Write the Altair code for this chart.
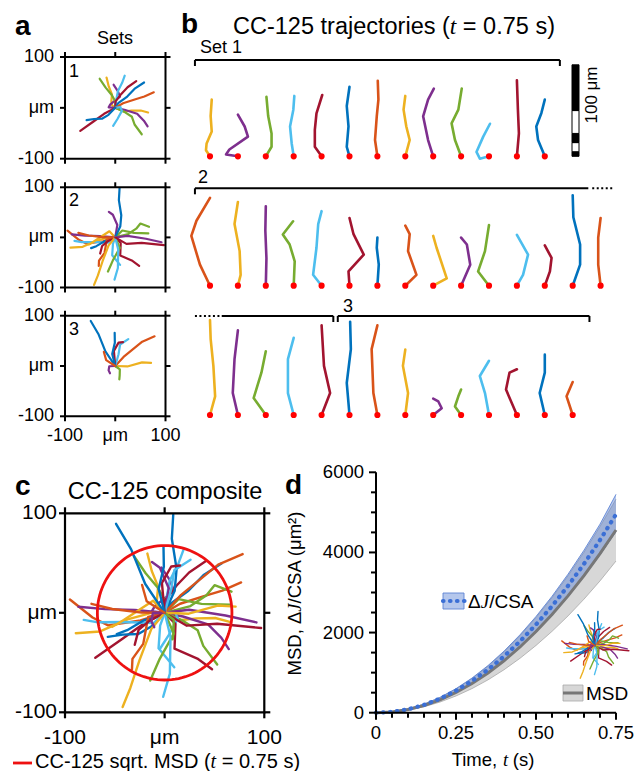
import math
import pandas as pd
import altair as alt

# ---------------- colours (MATLAB default order) ----------------
COLORS = ["#0072BD", "#D95319", "#EDB120", "#7E2F8E", "#77AC30", "#4DBEEE", "#A2142F"]
SET_FIRST_COLOR = [2, 1, 0]

# ---------------- trajectories, aligned so the end point is straight up (lateral, along) in um ----------------
SET1_SHAPES = [
    [(0, 0), (-4.4, 6.7), (-3.7, 14), (1.9, 27), (0.7, 44), (1.9, 62)],
    [(0, 0), (-13, 2), (-9.3, 7.4), (11, 21.5), (7.4, 32.6), (0, 45.5)],
    [(0, 0), (6.3, 10.4), (6.3, 25), (2.6, 44), (0.7, 65)],
    [(0, 0), (-2.2, 14), (-4, 32.6), (-0.4, 51), (0.7, 66)],
    [(0, 0), (-7.4, 10.4), (-7.4, 29), (-5.6, 47), (0.7, 67)],
    [(0, 0), (-3, 10.4), (-1.1, 32.6), (-3, 55), (0, 76)],
    [(0, 0), (-2.6, 17.8), (-0.7, 43.7), (1.1, 62), (0.4, 82.6)],
    [(0, 0), (4.8, 17.8), (1.1, 32.6), (-1.9, 51), (0, 66)],
    [(0, 0), (-5.6, 17.8), (-11, 43.7), (-5.6, 62), (0.7, 74)],
    [(0, 0), (-6.7, 17.8), (-10.4, 36), (-3, 51), (0.7, 74)],
    [(0, 0), (-10, -2.6), (-13.7, 4.8), (-6.3, 21.5), (1.1, 35.6)],
    [(0, 0), (2.2, 25), (1.1, 51), (0, 83)],
    [(0, 0), (-7.4, 17.8), (-9.3, 32.6), (-3.7, 47.4), (0, 62)],
]
SET2_SHAPES = [
    [(0, 0), (-11, 23), (-20.4, 54.4), (-14.8, 71), (0, 96)],
    [(0, 0), (3, 11.9), (1.9, 37.8), (-3.7, 67.4), (0, 91.5)],
    [(0, 0), (0.7, 30), (-0.5, 60), (0, 86.7)],
    [(0, 0), (1.1, 26.7), (-4.4, 45), (-11.9, 56), (-0.7, 70.4)],
    [(0, 0), (-9.3, 11.9), (-5.6, 41.5), (-3.7, 67.4), (0, 81.5)],
    [(0, 0), (-1.1, 15.6), (15.6, 34), (4.4, 56.3), (0, 74)],
    [(0, 0), (1.5, 23), (-0.7, 41.5), (0, 52.6)],
    [(0, 0), (12.2, 11.9), (3, 37.8), (4.8, 56.3), (0, 65.6)],
    [(0, 0), (14.8, 8.1), (3.7, 41.5), (0, 54.4)],
    [(0, 0), (10, 23), (6.3, 45), (0, 52.6)],
    [(0, 0), (-11.9, 15.6), (-4.4, 37.8), (0, 66.3)],
    [(0, 0), (6.7, 11.9), (12.2, 34), (0, 55.6)],
    [(0, 0), (5.6, 15.6), (7.4, 30.4), (0, 44)],
    [(0, 0), (8.1, 23), (8.1, 45), (0.7, 74.8), (0, 98.9)],
    [(0, 0), (-2.6, 23), (-2.6, 52.6), (0, 74)],
    [(0, 0), (5.6, 20.4), (3.7, 53.7), (0.7, 83.3), (0, 103.7)],
    [(0, 0), (-5.6, 24), (-3.7, 61), (0, 92.6)],
    [(0, 0), (-13.3, 18.5), (-4.8, 46.3), (0, 69.6)],
    [(0, 0), (-6.3, 24), (-6.3, 61), (0, 84.4)],
    [(0, 0), (9.3, 24), (2.6, 53.7), (0, 98)],
]
SET3_SHAPES = [
    [(0, 0), (-3, 35), (1.5, 72), (0.7, 101.9)],
    [(0, 0), (-4.4, 24), (-6.3, 72), (0, 98)],
    [(0, 0), (3, 24), (-2.6, 53.7), (0, 71.5)],
    [(0, 0), (9.3, 7.4), (5.6, 14.8), (0, 17.8)],
    [(0, 0), (-6.7, 9.3), (-3, 20.4), (0, 27.8)],
    [(0, 0), (-4.4, 24), (-10, 42.6), (0, 59.3)],
    [(0, 0), (-11.9, 27.8), (-8.1, 46.3), (0, 50)],
    [(0, 0), (-5.6, 24), (0, 46.3), (0, 66)],
    [(0, 0), (-6.7, 20.4), (0, 36)],
]
# direction (degrees) of each trajectory's end point in panels a / c
SET1_ANGLES = [108, 94, 119, 74, 52, 41, 22, -8, -29, -44, -95, -147, -157]
SET2_ANGLES = [172, -167, 176, 17, -175, -50, -156, -120, -165, 104, 7, -80, -133, 85, 173, -114, -6, -102, -91, -9]
SET3_ANGLES = [119, 37, 5, -126, -73, 64, 72, 91, 129]

# which (set, trajectory) is shown in each slot of the three rows of panel b
ROW1 = [(0, j) for j in range(13)]
ROW2 = [(1, j) for j in range(15)]
ROW3 = [(1, j) for j in range(15, 20)] + [(2, j) for j in range(9)]

# ---------------- panel d curves ----------------
TIME = [0, 0.05, 0.10, 0.15, 0.20, 0.25, 0.30, 0.35, 0.40, 0.45, 0.50, 0.55, 0.60, 0.65, 0.70, 0.75]
MSD = [0, 18, 78, 180, 322, 505, 728, 990, 1295, 1640, 2025, 2450, 2915, 3420, 3970, 4560]
MSD_LO = [0, 14, 64, 148, 266, 418, 602, 820, 1072, 1358, 1678, 2030, 2415, 2835, 3290, 3786]
MSD_HI = [0, 22, 92, 212, 378, 592, 854, 1160, 1518, 1922, 2372, 2870, 3415, 4005, 4645, 5330]
DJ = [0, 20, 85, 195, 350, 550, 790, 1075, 1405, 1780, 2200, 2660, 3165, 3715, 4310, 4950]
DJ_LO = [0, 18, 77, 178, 320, 500, 722, 983, 1285, 1627, 2010, 2432, 2895, 3398, 3940, 4517]
DJ_HI = [0, 23, 95, 214, 382, 600, 864, 1176, 1536, 1944, 2400, 2904, 3456, 4056, 4705, 5450]

# ---------------- ticks / labels ----------------
UM_TICKS = [-100, 0, 100]
UM_LABELS = ["-100", "\u03bcm", "100"]
D_X_MAJOR = [0, 0.25, 0.5, 0.75]
D_X_LABELS = ["0", "0.25", "0.50", "0.75"]
D_X_MINOR = [0.05, 0.10, 0.15, 0.20, 0.30, 0.35, 0.40, 0.45, 0.55, 0.60, 0.65, 0.70]
D_Y_MAJOR = [0, 2000, 4000, 6000]
D_Y_LABELS = ["0", "2000", "4000", "6000"]
D_Y_MINOR = [500, 1000, 1500, 2500, 3000, 3500, 4500, 5000, 5500]
SCALEBAR_SEGMENTS = [(0, 5, "black"), (5, 15, "white"), (15, 25, "black"), (25, 50, "white"), (50, 100, "black")]

# ---------------- layout ----------------
FONT = "Liberation Sans"
SERIF = "Liberation Serif"
A_XR = (65, 165.5)
A_YR = [(158.7, 57.0), (287.5, 187.3), (416.3, 315.7)]
B_SLOT_UM = 30.5
B_XR = (210, 600.6)
B_BASE = [156.3, 285.7, 415.0]
B_PX_PER_UM = (B_XR[1] - B_XR[0]) / (14 * B_SLOT_UM)
B_BRACKET_Y = [60, 188.3, 316]
B_BRACKETS = [  # row, start slot, end slot, dashed, left tick, right tick
    (0, -0.54, 12.54, False, True, True),
    (1, -0.54, 13.56, False, True, False),
    (1, 13.7, 14.5, True, False, False),
    (2, -0.54, 0.36, True, False, False),
    (2, 0.42, 4.42, False, False, True),
    (2, 4.58, 13.6, False, True, True),
]
C_XR = (65, 264.3)
C_YR = (712.3, 513.3)
D_XR = (376, 616)
D_YR = (712.7, 472.3)
INSET_XR = (560, 630)
INSET_YR = (680, 611)

CW = {" ": .278, "(": .333, ")": .333, ",": .278, "-": .333, ".": .278, "/": .278, "=": .584,
      "A": .667, "C": .722, "D": .722, "M": .833, "S": .667, "T": .611, "a": .556, "c": .5,
      "e": .556, "i": .222, "j": .222, "m": .833, "o": .556, "p": .556, "q": .556, "r": .333,
      "s": .5, "t": .278, "\u03bc": .576, "\u00b2": .333, "\u0394": .668}
ITW = {"t": .278, "J": .444, " ": .25}


def tw(t, italic=False):
    tbl = ITW if italic else CW
    return sum(tbl.get(ch, .556) for ch in t)


def rich_rows(pieces, size, x, y, align="left", vertical=False):
    total = sum(tw(t, it) for t, it in pieces) * size
    off = -total / 2 if align == "center" else 0.0
    normal, italic = [], []
    for t, it in pieces:
        lead = len(t) - len(t.lstrip(" "))
        o = off + lead * CW[" "] * size
        row = {"px": x, "py": y - o, "s": t.strip(" ")} if vertical else {"px": x + o, "py": y, "s": t.strip(" ")}
        (italic if it else normal).append(row)
        off += tw(t, it) * size
    return normal, italic


def sc(domain, rng):
    return alt.Scale(domain=list(domain), range=list(rng), nice=False, zero=False)


def text_layer(rows, size, font=FONT, style="normal", weight="normal", align="left",
               baseline="alphabetic", angle=0, color="black"):
    return alt.Chart(pd.DataFrame(rows)).mark_text(
        font=font, fontSize=size, fontStyle=style, fontWeight=weight, align=align,
        baseline=baseline, angle=angle, color=color
    ).encode(x=alt.X("px:Q", scale=None, axis=None), y=alt.Y("py:Q", scale=None, axis=None), text="s:N")


def rich_layers(pieces, size, x, y, align="left", vertical=False):
    n, i = rich_rows(pieces, size, x, y, align, vertical)
    ang = 270 if vertical else 0
    out = [text_layer(n, size, angle=ang)]
    if i:
        out.append(text_layer(i, size, font=SERIF, style="italic", angle=ang))
    return out


def seg_layer(rows, xs, ys, width=2, color="black", dash=None):
    df = pd.DataFrame(rows, columns=["x", "x2", "y", "y2"])
    kw = dict(color=color, strokeWidth=width)
    if dash:
        kw["strokeDash"] = dash
    return alt.Chart(df).mark_rule(**kw).encode(
        x=alt.X("x:Q", scale=xs, axis=None), x2="x2:Q",
        y=alt.Y("y:Q", scale=ys, axis=None), y2="y2:Q")


def frame_layers(xr, yr, tick_px=5, width=2):
    xs, ys = sc((-100, 100), xr), sc((-100, 100), yr)
    ppx = (xr[1] - xr[0]) / 200
    ppy = (yr[0] - yr[1]) / 200
    tx, ty = tick_px / ppx, tick_px / ppy
    rows = []
    for v in UM_TICKS:
        rows += [(-100 - tx, -100, v, v), (100, 100 + tx, v, v), (v, v, -100 - ty, -100), (v, v, 100, 100 + ty)]
    frame = alt.Chart(pd.DataFrame({"x": [-100], "x2": [100], "y": [-100], "y2": [100]})).mark_rect(
        fillOpacity=0, stroke="black", strokeWidth=width
    ).encode(x=alt.X("x:Q", scale=xs, axis=None), x2="x2:Q", y=alt.Y("y:Q", scale=ys, axis=None), y2="y2:Q")
    return [frame, seg_layer(rows, xs, ys, width)]


def line_layer(df, xs, ys, width):
    return alt.Chart(df).mark_line(strokeWidth=width, strokeCap="round", strokeJoin="round").encode(
        x=alt.X("x:Q", scale=xs, axis=None), y=alt.Y("y:Q", scale=ys, axis=None),
        detail="tid:N", order="k:Q", color=alt.Color("color:N", scale=None, legend=None))


# ---------------- build trajectory tables ----------------
SHAPES = [SET1_SHAPES, SET2_SHAPES, SET3_SHAPES]
ANGLES = [SET1_ANGLES, SET2_ANGLES, SET3_ANGLES]


def color_of(s, j):
    return COLORS[(SET_FIRST_COLOR[s] + j) % len(COLORS)]


rot_rows = []
for s in range(3):
    for j, (shape, ang) in enumerate(zip(SHAPES[s], ANGLES[s])):
        phi = math.radians(ang - 90)
        c, sn = math.cos(phi), math.sin(phi)
        for k, (u, v) in enumerate(shape):
            rot_rows.append({"set": s, "tid": f"{s}-{j}", "k": k, "x": u * c - v * sn, "y": u * sn + v * c,
                             "color": color_of(s, j)})
rot_df = pd.DataFrame(rot_rows)

layers = []

# ---------------- panel a ----------------
AXS = sc((-100, 100), A_XR)
for s in range(3):
    ys = sc((-100, 100), A_YR[s])
    layers.append(line_layer(rot_df[rot_df["set"] == s], AXS, ys, 2.2))
    layers += frame_layers(A_XR, A_YR[s])
    layers.append(alt.Chart(pd.DataFrame({"v": UM_TICKS, "s": UM_LABELS})).mark_text(
        font=FONT, fontSize=18, align="right", baseline="middle").encode(
        y=alt.Y("v:Q", scale=ys, axis=None), x=alt.value(54), text="s:N"))
layers.append(alt.Chart(pd.DataFrame({"v": UM_TICKS, "s": UM_LABELS})).mark_text(
    font=FONT, fontSize=18, align="center", baseline="alphabetic").encode(
    x=alt.X("v:Q", scale=AXS, axis=None), y=alt.value(441), text="s:N"))
layers.append(text_layer([{"px": 115, "py": 44.3, "s": "Sets"}], 18, align="center"))
layers.append(text_layer([{"px": 69, "py": 77, "s": "1"}, {"px": 69, "py": 205.7, "s": "2"},
                          {"px": 69, "py": 334.7, "s": "3"}], 18))

# ---------------- panel b ----------------
BXS = sc((0, 14 * B_SLOT_UM), B_XR)
for r, row in enumerate([ROW1, ROW2, ROW3]):
    ys = sc((0, 100), (B_BASE[r], B_BASE[r] - 100 * B_PX_PER_UM))
    recs, dots = [], []
    for slot, (s, j) in enumerate(row):
        for k, (u, v) in enumerate(SHAPES[s][j]):
            recs.append({"tid": f"{s}-{j}", "k": k, "x": slot * B_SLOT_UM + u, "y": v, "color": color_of(s, j)})
        dots.append({"x": slot * B_SLOT_UM, "y": 0})
    layers.append(line_layer(pd.DataFrame(recs), BXS, ys, 2.6))
    layers.append(alt.Chart(pd.DataFrame(dots)).mark_circle(color="#ff0000", size=38, opacity=1).encode(
        x=alt.X("x:Q", scale=BXS, axis=None), y=alt.Y("y:Q", scale=ys, axis=None)))
    if r == 0:
        sb = pd.DataFrame([{"y": a, "y2": b, "c": col} for a, b, col in SCALEBAR_SEGMENTS])
        layers.append(alt.Chart(sb).mark_rect(stroke="black", strokeWidth=1).encode(
            x=alt.value(572), x2=alt.value(579), y=alt.Y("y:Q", scale=ys, axis=None), y2="y2:Q",
            color=alt.Color("c:N", scale=None, legend=None)))

solid_h, dash_h, ticks_v = [], [], []
for r, a, b, dashed, lt, rt in B_BRACKETS:
    py = B_BRACKET_Y[r]
    (dash_h if dashed else solid_h).append({"x": a * B_SLOT_UM, "x2": b * B_SLOT_UM, "py": py})
    if lt:
        ticks_v.append({"x": a * B_SLOT_UM, "py": py, "py2": py + 6})
    if rt:
        ticks_v.append({"x": b * B_SLOT_UM, "py": py, "py2": py + 6})
layers.append(alt.Chart(pd.DataFrame(solid_h)).mark_rule(color="black", strokeWidth=2).encode(
    x=alt.X("x:Q", scale=BXS, axis=None), x2="x2:Q", y=alt.Y("py:Q", scale=None, axis=None)))
layers.append(alt.Chart(pd.DataFrame(dash_h)).mark_rule(color="black", strokeWidth=2, strokeDash=[2, 2.5]).encode(
    x=alt.X("x:Q", scale=BXS, axis=None), x2="x2:Q", y=alt.Y("py:Q", scale=None, axis=None)))
layers.append(alt.Chart(pd.DataFrame(ticks_v)).mark_rule(color="black", strokeWidth=2).encode(
    x=alt.X("x:Q", scale=BXS, axis=None), y=alt.Y("py:Q", scale=None, axis=None), y2="py2:Q"))
layers.append(text_layer([{"px": 200, "py": 53, "s": "Set 1"}, {"px": 198, "py": 183, "s": "2"},
                          {"px": 343, "py": 311.5, "s": "3"}], 18))
layers.append(text_layer([{"px": 597, "py": 95, "s": "100 \u03bcm"}], 17, align="center", angle=270))
layers += rich_layers([("CC-125 trajectories (", False), ("t", True), (" = 0.75 s)", False)], 23.5, 394, 34,
                      align="center")

# ---------------- panel c ----------------
CXS, CYS = sc((-100, 100), C_XR), sc((-100, 100), C_YR)
layers.append(line_layer(rot_df, CXS, CYS, 2.4))
R = math.sqrt(MSD[-1])
circ = pd.DataFrame([{"k": i, "x": R * math.cos(2 * math.pi * i / 120), "y": R * math.sin(2 * math.pi * i / 120)}
                     for i in range(121)])
layers.append(alt.Chart(circ).mark_line(color="#ee1111", strokeWidth=2.8).encode(
    x=alt.X("x:Q", scale=CXS, axis=None), y=alt.Y("y:Q", scale=CYS, axis=None), order="k:Q"))
layers += frame_layers(C_XR, C_YR, tick_px=6, width=2.2)
layers.append(alt.Chart(pd.DataFrame({"v": UM_TICKS, "s": UM_LABELS})).mark_text(
    font=FONT, fontSize=21, align="right", baseline="middle").encode(
    y=alt.Y("v:Q", scale=CYS, axis=None), x=alt.value(57), text="s:N"))
layers.append(alt.Chart(pd.DataFrame({"v": UM_TICKS, "s": UM_LABELS})).mark_text(
    font=FONT, fontSize=21, align="center", baseline="alphabetic").encode(
    x=alt.X("v:Q", scale=CXS, axis=None), y=alt.value(744), text="s:N"))
layers.append(text_layer([{"px": 165, "py": 499, "s": "CC-125 composite"}], 23.5, align="center"))
layers.append(alt.Chart(pd.DataFrame({"a": [0]})).mark_rule(color="#ee1111", strokeWidth=2.8).encode(
    x=alt.value(13), x2=alt.value(32), y=alt.value(763)))
layers += rich_layers([("CC-125 sqrt. MSD (", False), ("t", True), (" = 0.75 s)", False)], 20, 35, 768)

# ---------------- panel d ----------------
DXS, DYS = sc((0, 0.75), D_XR), sc((0, 6000), D_YR)
dfd = pd.DataFrame({"t": TIME, "msd": MSD, "msd_lo": MSD_LO, "msd_hi": MSD_HI,
                    "dj": DJ, "dj_lo": DJ_LO, "dj_hi": DJ_HI})
dx = alt.X("t:Q", scale=DXS, axis=None)
layers.append(alt.Chart(dfd).mark_area(color="#bdbdbd", opacity=0.6).encode(
    x=dx, y=alt.Y("msd_lo:Q", scale=DYS, axis=None), y2="msd_hi:Q"))
for f in ["msd_lo", "msd_hi"]:
    layers.append(alt.Chart(dfd).mark_line(color="#a8a8a8", strokeWidth=0.8).encode(
        x=dx, y=alt.Y(f"{f}:Q", scale=DYS, axis=None)))
layers.append(alt.Chart(dfd).mark_area(color="#5b82d6", opacity=0.45).encode(
    x=dx, y=alt.Y("dj_lo:Q", scale=DYS, axis=None), y2="dj_hi:Q"))
for f in ["dj_lo", "dj_hi"]:
    layers.append(alt.Chart(dfd).mark_line(color="#5f84d4", strokeWidth=0.9).encode(
        x=dx, y=alt.Y(f"{f}:Q", scale=DYS, axis=None)))
layers.append(alt.Chart(dfd).mark_line(color="#777777", strokeWidth=3).encode(
    x=dx, y=alt.Y("msd:Q", scale=DYS, axis=None)))
layers.append(alt.Chart(dfd).mark_line(color="#3b6fd5", strokeWidth=4.2, strokeDash=[0.5, 6.5],
                                       strokeCap="round").encode(x=dx, y=alt.Y("dj:Q", scale=DYS, axis=None)))
# axes
ppx_d = (D_XR[1] - D_XR[0]) / 0.75
ppy_d = (D_YR[0] - D_YR[1]) / 6000
ax_rows = [(0, 0.75, 0, 0), (0, 0, 0, 6000)]
ax_rows += [(t, t, 0, -7 / ppy_d) for t in D_X_MAJOR] + [(t, t, 0, -5 / ppy_d) for t in D_X_MINOR]
ax_rows += [(0, -7 / ppx_d, v, v) for v in D_Y_MAJOR] + [(0, -5 / ppx_d, v, v) for v in D_Y_MINOR]
layers.append(seg_layer(ax_rows, DXS, DYS, 2))
layers.append(alt.Chart(pd.DataFrame({"v": D_X_MAJOR, "s": D_X_LABELS})).mark_text(
    font=FONT, fontSize=18.5, align="center", baseline="alphabetic").encode(
    x=alt.X("v:Q", scale=DXS, axis=None), y=alt.value(739), text="s:N"))
layers.append(alt.Chart(pd.DataFrame({"v": D_Y_MAJOR, "s": D_Y_LABELS})).mark_text(
    font=FONT, fontSize=18.5, align="right", baseline="middle").encode(
    y=alt.Y("v:Q", scale=DYS, axis=None), x=alt.value(364), text="s:N"))
layers += rich_layers([("Time,", False), (" t", True), (" (s)", False)], 18.5, 493, 766, align="center")
layers += rich_layers([("MSD, \u0394", False), ("J", True), ("/CSA (\u03bcm\u00b2)", False)], 18.5, 301, 593,
                      align="center", vertical=True)
# inset composite
layers.append(line_layer(rot_df, sc((-100, 100), INSET_XR), sc((-100, 100), INSET_YR), 1.4))
# legend
layers.append(alt.Chart(pd.DataFrame({"a": [0]})).mark_rect(color="#b5c7ec", stroke="#5f84d4", strokeWidth=0.9).encode(
    x=alt.value(443), x2=alt.value(464), y=alt.value(593), y2=alt.value(609)))
layers.append(alt.Chart(pd.DataFrame({"a": [0]})).mark_rule(color="#3b6fd5", strokeWidth=4.2, strokeDash=[0.5, 6.5],
                                                            strokeCap="round").encode(
    x=alt.value(443), x2=alt.value(466), y=alt.value(601)))
layers += rich_layers([("\u0394", False), ("J", True), ("/CSA", False)], 19, 468, 607.5)
layers.append(alt.Chart(pd.DataFrame({"a": [0]})).mark_rect(color="#d7d7d7", stroke="#a8a8a8", strokeWidth=0.8).encode(
    x=alt.value(563), x2=alt.value(583), y=alt.value(685), y2=alt.value(701)))
layers.append(alt.Chart(pd.DataFrame({"a": [0]})).mark_rule(color="#777777", strokeWidth=3).encode(
    x=alt.value(563), x2=alt.value(583), y=alt.value(693)))
layers.append(text_layer([{"px": 586, "py": 700, "s": "MSD"}], 19))

# ---------------- panel letters ----------------
layers.append(text_layer([{"px": 15, "py": 35, "s": "a"}, {"px": 181, "py": 33, "s": "b"},
                          {"px": 15, "py": 495, "s": "c"}, {"px": 285, "py": 494, "s": "d"}], 28, weight="bold"))

chart = alt.layer(*layers).resolve_scale(x="independent", y="independent", color="independent").properties(
    width=635, height=771, autosize=alt.AutoSizeParams(type="none"), padding=0, background="white"
).configure_view(strokeWidth=0)

chart.save("out.html", embed_options={"renderer": "svg", "actions": False})
